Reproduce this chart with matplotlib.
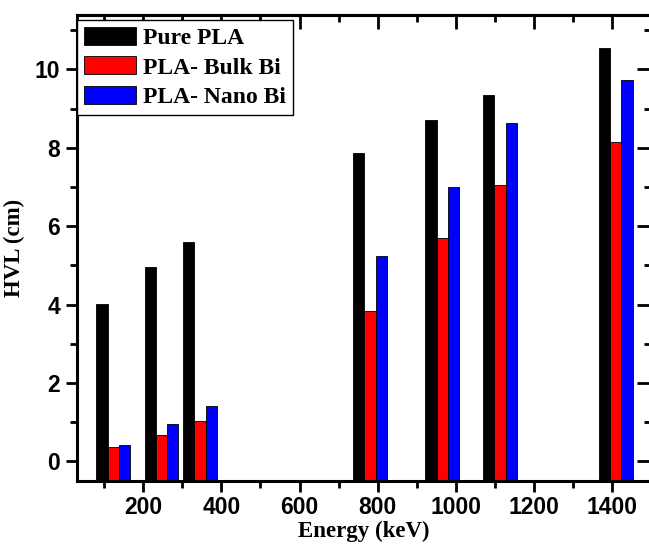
import numpy as np
import matplotlib.pyplot as plt
from matplotlib.ticker import MultipleLocator

# gamma energies (keV)
energy = [122, 245, 344, 779, 964, 1112, 1408]
# HVL values (cm)
hvl_pure = [4.01, 4.95, 5.60, 7.88, 8.72, 9.34, 10.54]
hvl_bulk = [0.37, 0.67, 1.04, 3.85, 5.71, 7.05, 8.15]
hvl_nano = [0.43, 0.96, 1.42, 5.23, 7.00, 8.64, 9.73]
labels = ['Pure PLA', 'PLA- Bulk Bi', 'PLA- Nano Bi']
colors = ['black', 'red', 'blue']

fig = plt.figure(figsize=(6.49, 5.55), dpi=100)
ax = fig.add_axes([0.1186, 0.1333, 0.8844, 0.839])

x = np.array(energy, dtype=float) + 1.5
w = 29
base = -0.5
for k, (vals, lab, col) in enumerate(zip([hvl_pure, hvl_bulk, hvl_nano], labels, colors)):
    v = np.array(vals)
    ax.bar(x + (k - 1) * w, v - base, width=w, bottom=base, color=col,
           edgecolor='black', linewidth=0.6, label=lab, zorder=2)

ax.set_xlim(30, 1500)
ax.set_ylim(-0.5, 11.38)
ax.xaxis.set_major_locator(MultipleLocator(200))
ax.xaxis.set_minor_locator(MultipleLocator(100))
ax.yaxis.set_major_locator(MultipleLocator(2))
ax.yaxis.set_minor_locator(MultipleLocator(1))

for s in ax.spines.values():
    s.set_linewidth(2.2)
ax.tick_params(which='major', direction='out', length=8, width=2, labelsize=16.5, pad=3)
ax.tick_params(which='minor', direction='out', length=5, width=2)
ax.tick_params(axis='y', which='major', pad=4)
for t in ax.get_xticklabels() + ax.get_yticklabels():
    t.set_fontweight('bold')
    t.set_fontfamily('Liberation Sans')

# mirrored ticks pointing inward on top and right
top = ax.secondary_xaxis('top')
top.xaxis.set_major_locator(MultipleLocator(200))
top.xaxis.set_minor_locator(MultipleLocator(100))
top.tick_params(which='major', direction='in', length=10, width=2, labeltop=False)
top.tick_params(which='minor', direction='in', length=5, width=2)
top.spines['top'].set_linewidth(2.2)
right = ax.secondary_yaxis('right')
right.yaxis.set_major_locator(MultipleLocator(2))
right.yaxis.set_minor_locator(MultipleLocator(1))
right.tick_params(which='major', direction='in', length=10, width=2, labelright=False)
right.tick_params(which='minor', direction='in', length=5, width=2)
right.spines['right'].set_linewidth(2.2)

ax.set_xlabel('Energy (keV)', fontfamily='Liberation Serif', fontweight='bold', fontsize=16.5, labelpad=1)
ax.set_ylabel('HVL (cm)', fontfamily='Liberation Serif', fontweight='bold', fontsize=16.5, labelpad=7)

leg = ax.legend(loc='upper left', bbox_to_anchor=(0.0, 0.99), borderaxespad=0,
                prop={'family': 'Liberation Serif', 'weight': 'bold', 'size': 17},
                fancybox=False, framealpha=1, edgecolor='black',
                handlelength=2.2, handleheight=0.8, labelspacing=0.3,
                handletextpad=0.3, borderpad=0.3)
leg.get_frame().set_linewidth(1.0)

fig.savefig('out.png', dpi=100)
